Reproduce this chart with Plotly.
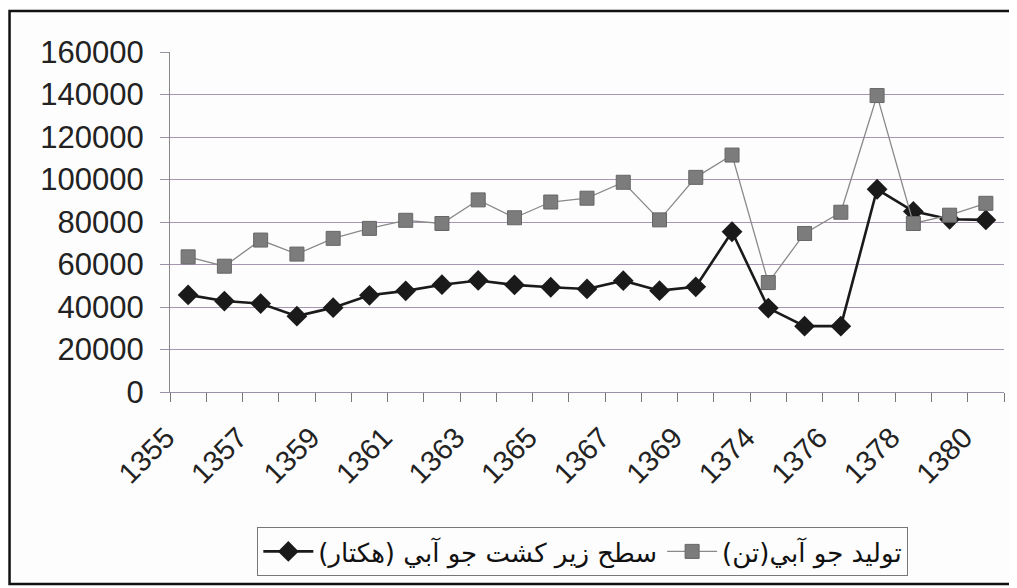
import plotly.graph_objects as go

categories = ["1355", "1356", "1357", "1358", "1359", "1360", "1361", "1362",
              "1363", "1364", "1365", "1366", "1367", "1368", "1369", "1370",
              "1374", "1375", "1376", "1377", "1378", "1379", "1380"]

# سطح زیر کشت جو آبي (هکتار)
area_ha = [45700, 42800, 41600, 35700, 39700, 45500, 47600, 50500, 52500, 50400,
           49300, 48500, 52400, 47700, 49500, 75400, 39500, 31000, 31000, 95400,
           85000, 81300, 81000]

# توليد جو آبي(تن)
production_t = [63600, 59200, 71500, 64900, 72300, 77000, 80800, 79300, 90400, 82000,
                89400, 91200, 98700, 81000, 101000, 111500, 51500, 74600, 84600, 139500,
                79300, 83200, 88800]

y_ticks = [0, 20000, 40000, 60000, 80000, 100000, 120000, 140000, 160000]

name_area = "سطح زیر کشت جو آبي (هکتار)"
name_prod = "توليد جو آبي(تن)"

xi = list(range(len(categories)))
label_idx = xi[::2]

FONT = "Liberation Sans, Arial, DejaVu Sans, sans-serif"

fig = go.Figure()
fig.add_trace(go.Scatter(
    x=xi, y=area_ha, name=name_area, mode="lines+markers",
    line=dict(color="#1a1a1a", width=2.6),
    marker=dict(symbol="diamond", size=16, color="#1a1a1a"),
))
fig.add_trace(go.Scatter(
    x=xi, y=production_t, name=name_prod, mode="lines+markers",
    line=dict(color="#8a8a8a", width=1.3),
    marker=dict(symbol="square", size=14, color="#7c7c7c",
                line=dict(color="#666666", width=1)),
))

# page body adds an 8px offset, so the figure is 8px smaller with shifted margins
fig.update_layout(
    width=1009, height=580,
    margin=dict(l=162, r=13, t=44, b=196),
    paper_bgcolor="#fdfdfd", plot_bgcolor="#fdfdfd",
    font=dict(family=FONT, color="#222222"),
    showlegend=True,
    legend=dict(
        orientation="h", x=0.495, xanchor="center", y=-0.397, yanchor="top",
        bordercolor="#777777", borderwidth=1, bgcolor="#fdfdfd",
        font=dict(size=26, family="DejaVu Sans, Liberation Sans, sans-serif", color="#111111"),
        itemwidth=50,
    ),
)

fig.update_xaxes(
    range=[-0.5, len(categories) - 0.5],
    tickmode="array", tickvals=label_idx,
    ticktext=[categories[i] for i in label_idx],
    tickangle=-45, tickfont=dict(size=29, family=FONT, color="#222222"),
    ticks="", ticklabelstandoff=16, ticklabelshift=-22,
    showgrid=False, zeroline=False,
    showline=True, linecolor="#9a90a8", linewidth=1,
    minor=dict(tick0=-0.5, dtick=1, ticks="outside", ticklen=9,
               tickcolor="#777777", showgrid=False),
)
fig.update_yaxes(
    range=[0, 160000], tickmode="array", tickvals=y_ticks,
    ticktext=[str(v) for v in y_ticks],
    tickfont=dict(size=31, family=FONT, color="#222222"),
    ticks="outside", ticklen=9, tickcolor="#9a90a8", ticklabelstandoff=10,
    showgrid=True, gridcolor="#a596b4", gridwidth=1,
    zeroline=False,
    showline=True, linecolor="#888888", linewidth=1,
)

# outer frame of the chart
fig.add_shape(type="rect", xref="paper", yref="paper",
              x0=-0.1924, x1=1.0108, y0=-0.5647, y1=1.1206,
              line=dict(color="#111111", width=2.5), layer="above")

fig.write_html("out.html")
